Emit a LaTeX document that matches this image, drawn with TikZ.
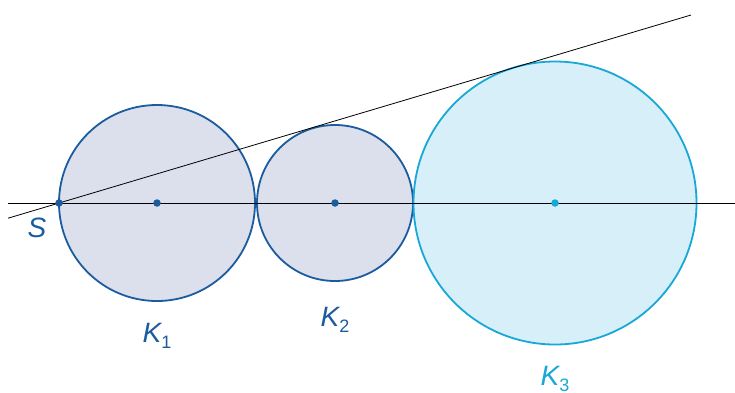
\documentclass[tikz,border=0pt]{standalone}
\usepackage{fontspec}
\setmainfont{Liberation Sans}
\definecolor{dblue}{HTML}{1B5C9E}
\definecolor{cyanb}{HTML}{17A8D8}
\definecolor{greyfill}{HTML}{DCDFEC}
\definecolor{cyanfill}{HTML}{D7EFF8}
\tikzset{
  circA/.style={draw=dblue, fill=greyfill, line width=1.8pt},
  circB/.style={draw=cyanb, fill=cyanfill, line width=1.8pt},
  thinline/.style={draw=black, line width=0.8pt},
  ctrdot/.style={circle, inner sep=0pt, minimum size=7.5pt},
  lab/.style={font=\fontsize{28}{28}\selectfont\itshape, inner sep=0pt}
}
\newcommand{\subnum}[1]{\raisebox{-0.45ex}{\upshape\fontsize{18}{18}\selectfont #1}}
\begin{document}
\begin{tikzpicture}[x=1pt,y=-1pt]
\useasboundingbox (0,0) rectangle (735,392);
\draw[circA] (157,203) circle (98);
\draw[circA] (335,203) circle (78);
\draw[circB] (555,203) circle (141.5);
\coordinate (L1) at (8,203);
\coordinate (R1) at (735,203);
\coordinate (L2) at (8,218.2);
\coordinate (R2) at (691,15);
\draw[thinline] (L1) -- (R1);
\draw[thinline] (L2) -- (R2);
\node[ctrdot, fill=dblue] (S) at (59,203) {};
\node[ctrdot, fill=dblue] (c1) at (157,203) {};
\node[ctrdot, fill=dblue] (c2) at (335,203) {};
\node[ctrdot, fill=cyanb] (c3) at (555,203) {};
\node[lab, text=dblue] (Slab) at (37,228) {S};
\node[lab, text=dblue] (K1) at (157,336) {K\subnum{1}};
\node[lab, text=dblue] (K2) at (335,320) {K\subnum{2}};
\node[lab, text=cyanb] (K3) at (555,379) {K\subnum{3}};
\end{tikzpicture}
\end{document}
